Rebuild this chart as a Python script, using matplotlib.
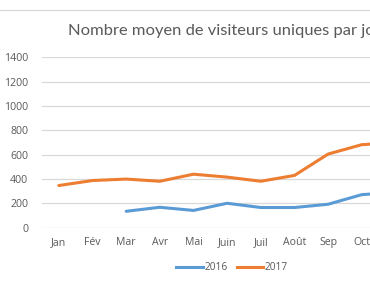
import matplotlib
matplotlib.use('Agg')

import numpy as np
import matplotlib.pyplot as plt
from matplotlib.lines import Line2D

# Données
mois = ['Jan', 'Fév', 'Mar', 'Avr', 'Mai', 'Juin', 'Juil', 'Août', 'Sep', 'Oct', 'Nov', 'Déc']
visiteurs_2016 = [np.nan, np.nan, 135, 168, 142, 201, 166, 166, 193, 272, 290, 300]
visiteurs_2017 = [347, 388, 400, 382, 440, 416, 382, 430, 606, 683, 700, 720]
graduations_y = [0, 200, 400, 600, 800, 1000, 1200, 1400]

titre = 'Nombre moyen de visiteurs uniques par jour'
couleur_2016 = '#5B9BD5'
couleur_2017 = '#ED7D31'
gris_texte = '#595959'
gris_grille = '#D9D9D9'

plt.rcParams['font.family'] = ['Open Sans', 'DejaVu Sans']

W, H = 370, 297
fig = plt.figure(figsize=(W / 100, H / 100), dpi=100)

# L'axe dépasse à droite : le graphique d'origine est rogné
gauche, droite = 42, 446
bas, haut = 227.7, 57.5
ax = fig.add_axes([gauche / W, 1 - bas / H, (droite - gauche) / W, (bas - haut) / H])

x = np.arange(len(mois))
ax.plot(x, visiteurs_2016, color=couleur_2016, lw=2.2, solid_capstyle='round', label='2016')
ax.plot(x, visiteurs_2017, color=couleur_2017, lw=2.2, solid_capstyle='round', label='2017')

ax.set_xlim(-0.5, len(mois) - 0.5)
ax.set_ylim(0, 1400)
ax.set_xticks(x)
ax.set_xticklabels(mois)
ax.set_yticks(graduations_y)
ax.set_yticklabels([str(v) for v in graduations_y])
ax.tick_params(axis='both', length=0, labelsize=7.6, colors=gris_texte)
ax.tick_params(axis='x', pad=7)
ax.tick_params(axis='y', pad=10)
ax.grid(axis='y', color=gris_grille, lw=0.9)
ax.set_axisbelow(True)
for s in ax.spines.values():
    s.set_visible(False)

# Titre (coupé à droite comme sur l'original)
fig.text(68 / W, 1 - 31 / H, titre, ha='left', va='center', fontsize=11.85, color=gris_texte,
         family=['Lato', 'DejaVu Sans'])

# Bordure supérieure du cadre
fig.add_artist(Line2D([0, 1], [1 - 10 / H, 1 - 10 / H], color=gris_grille, lw=0.9, transform=fig.transFigure))

poignees = [Line2D([], [], color=couleur_2016, lw=2.2), Line2D([], [], color=couleur_2017, lw=2.2)]
fig.legend(poignees, ['2016', '2017'], loc='center', bbox_to_anchor=(232 / W, 1 - 268 / H),
           ncol=2, frameon=False, fontsize=7.3, labelcolor=gris_texte,
           handlelength=2.6, handletextpad=0.15, columnspacing=0.9)

fig.savefig('out.png', dpi=100)
